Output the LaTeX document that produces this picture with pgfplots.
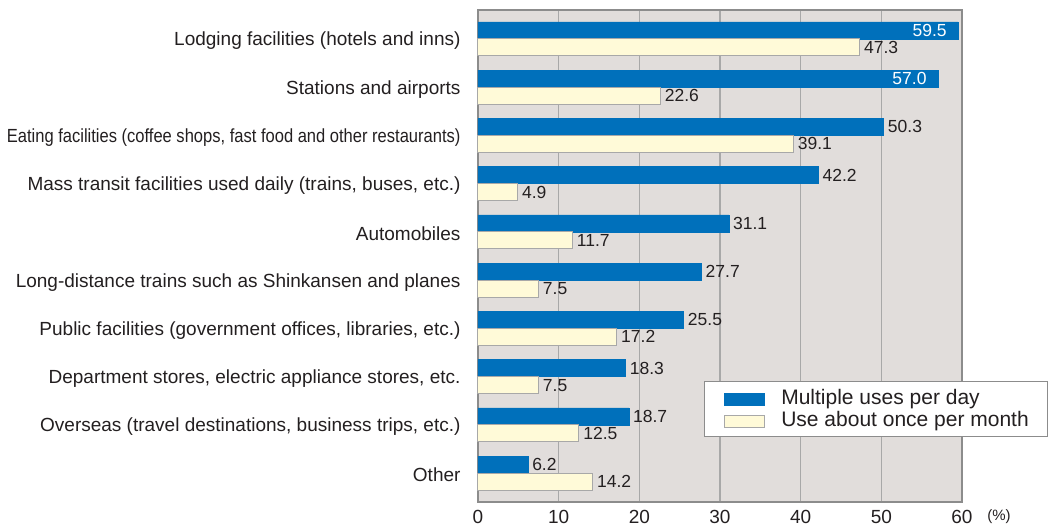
\documentclass[border=0pt]{standalone}
\usepackage{fontspec}
\setmainfont{Liberation Sans}
\usepackage{graphicx}
\usepackage{pgfplots}
\pgfplotsset{compat=1.18}
\usetikzlibrary{calc}
\definecolor{barblue}{HTML}{0070BB}
\definecolor{baryel}{HTML}{FFFAD8}
\definecolor{bggray}{HTML}{E1DDDB}
\definecolor{gridgray}{HTML}{A8A8A8}
\definecolor{framegray}{HTML}{8C8C8C}
\definecolor{txt}{HTML}{231F20}
\begin{document}
\begin{tikzpicture}
\begin{axis}[
  scale only axis, width=484pt, height=492pt,
  xmin=0, xmax=60, ymin=-0.6, ymax=9.6,
  xbar, bar width=17pt,
  axis background/.style={fill=bggray},
  axis line style={framegray, line width=1.6pt},
  xmajorgrids, grid style={gridgray, line width=1.4pt},
  xtick={0,10,...,60}, ytick={0,...,9},
  yticklabels={{Other},
    {Overseas (travel destinations, business trips, etc.)\hspace{4pt}},
    {Department stores, electric appliance stores, etc.},
    {Public facilities (government offices, libraries, etc.)},
    {Long-distance trains such as Shinkansen and planes},
    {Automobiles},
    {Mass transit facilities used daily (trains, buses, etc.)},
    {\scalebox{0.87}[1]{Eating facilities (coffee shops, fast food and other restaurants)}\hspace{4pt}},
    {Stations and airports},
    {Lodging facilities (hotels and inns)}},
  major tick length=0pt,
  tick label style={font=\fontsize{19}{22}\selectfont, text=txt},
  /pgf/number format/assume math mode=true,
  xticklabel style={yshift=-5pt},
  yticklabel style={xshift=-14pt, yshift=-2pt},
  clip=false,
  point meta=x,
  nodes near coords={\pgfmathprintnumber[fixed,fixed zerofill,precision=1]{\pgfplotspointmeta}},
  nodes near coords style={font=\fontsize{17.5}{20}\selectfont, text=txt, inner sep=4pt},
  legend style={at={(0.467,0.246)}, anchor=north west, draw=framegray, line width=1pt,
    fill=white, font=\fontsize{21}{25}\selectfont, text=txt,
    nodes={inner sep=0pt}, inner xsep=19pt, inner ysep=8pt,
    row sep=5.5pt,
    /tikz/every odd column/.append style={column sep=17pt}},
  legend cell align=left,
  legend image code/.code={\draw[#1, line width=0.8pt] (0pt,-7.5pt) rectangle (40pt,4.5pt);},
]
\addplot[forget plot, fill=barblue, draw=barblue, line width=0.5pt, bar shift=8.5pt,
  every node near coord/.append style={anchor=east, text=white, xshift=-7pt}]
  coordinates {(59.5,9) (57.0,8)};
\addplot[fill=barblue, draw=barblue, line width=0.5pt, bar shift=8.5pt]
  coordinates {(50.3,7) (42.2,6) (31.1,5) (27.7,4) (25.5,3) (18.3,2) (18.7,1) (6.2,0)};
\addplot[fill=baryel, draw=gridgray, line width=1pt, bar shift=-8.5pt]
  coordinates {(47.3,9) (22.6,8) (39.1,7) (4.9,6) (11.7,5) (7.5,4) (17.2,3) (7.5,2) (12.5,1) (14.2,0)};
\legend{Multiple uses per day, Use about once per month}
\coordinate (sw) at (rel axis cs:0,0);
\coordinate (nw) at (rel axis cs:0,1);
\node[font=\fontsize{15}{17}\selectfont, text=txt, anchor=center] at ($(rel axis cs:1,0)+(37pt,-15pt)$) {(\%)};
\end{axis}
\pgfresetboundingbox
\useasboundingbox ($(sw)+(-478pt,-26pt)$) rectangle ($(nw)+(571pt,10pt)$);
\end{tikzpicture}
\end{document}
